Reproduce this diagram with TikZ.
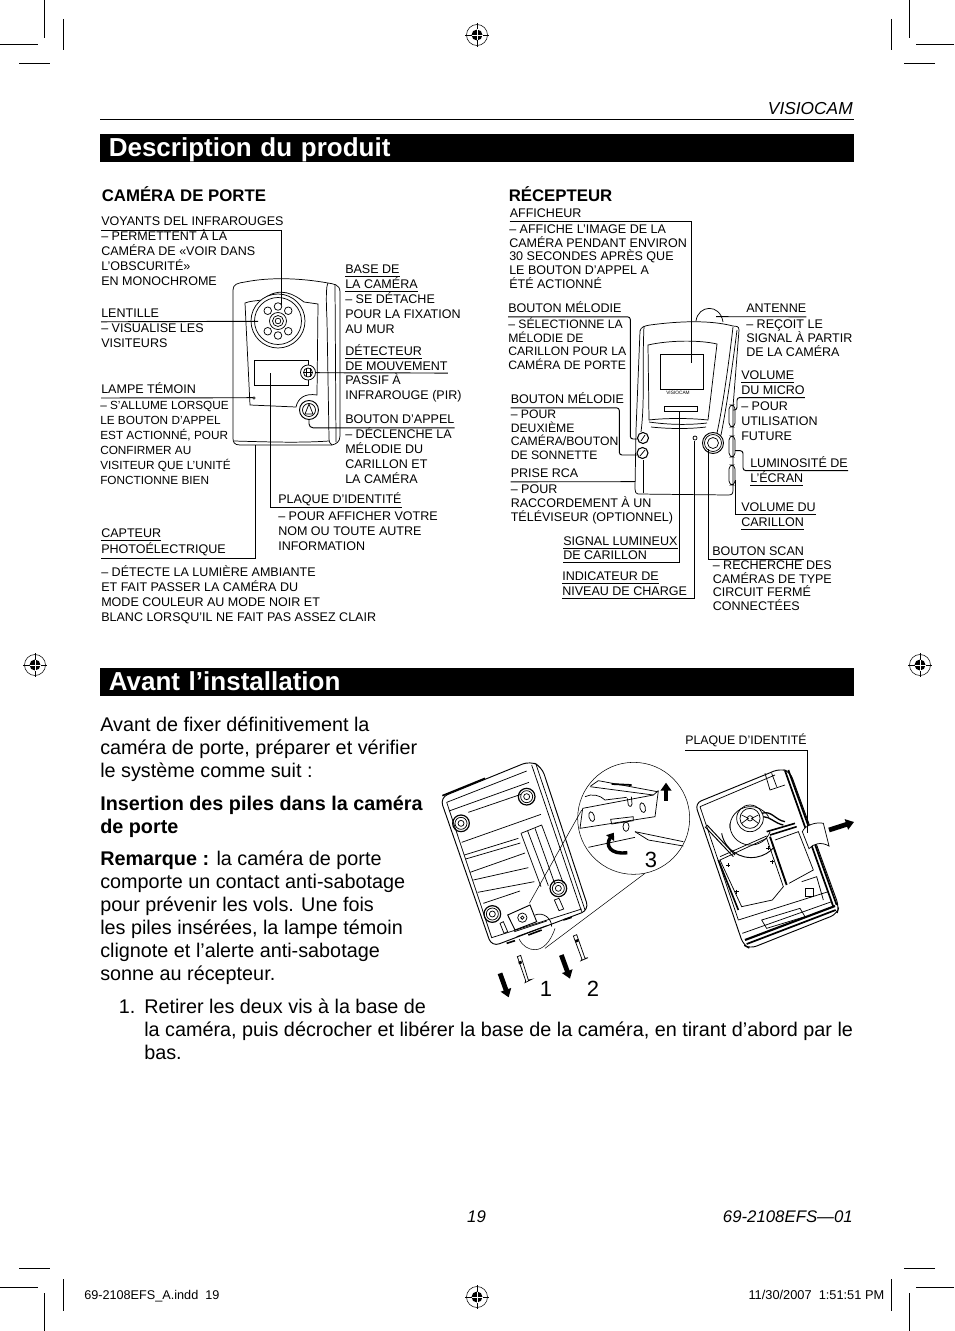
\documentclass[tikz,border=0pt]{standalone}
\usepackage{fontspec}
\setmainfont{Liberation Sans}
\usetikzlibrary{arrows.meta}
\newcommand{\camfont}{\fontsize{9.4pt}{11.25pt}\selectfont}
\newcommand{\recfont}{\fontsize{9.4pt}{10.25pt}\selectfont}
\newcommand{\bodyfont}{\fontsize{14.85pt}{17.25pt}\selectfont}
\tikzset{
  camtext/.style={anchor=base west,inner sep=0pt,align=left,font=\camfont},
  rectext/.style={anchor=base west,inner sep=0pt,align=left,font=\recfont},
  headlow/.style={anchor=base west,inner sep=0pt,font=\camfont,text depth=3.4pt},
  headtight/.style={anchor=base west,inner sep=0pt,font=\camfont,text depth=2.1pt},
  bodytext/.style={anchor=base west,inner sep=0pt,align=left,font=\bodyfont},
  titlebar/.style={anchor=north west,fill=black,text=white,inner ysep=0pt,inner xsep=6.4pt,
    text height=16.5pt,text depth=4.5pt,text width=552.7pt,font=\fontsize{19.5pt}{21pt}\selectfont\bfseries},
  subtitle/.style={anchor=base west,inner sep=0pt,font=\fontsize{12.6pt}{14pt}\selectfont\bfseries},
  leader/.style={line width=0.7pt},
  partline/.style={line width=0.55pt},
  blkarrow/.style={line width=3.6pt,-{Triangle[width=8pt,length=6pt]}},
  cropmark/.style={line width=0.7pt}
}
\begin{document}
\begin{tikzpicture}[x=0.75pt,y=-0.75pt]
\useasboundingbox (0,0) rectangle (954,1331);

% crop marks
\foreach \xa/\xb/\xc/\xd/\xe/\xf in {44.5/63/0/38/19/50,909.5/891/954/916/935/904}{
  \draw[cropmark] (\xa,0)--(\xa,38);
  \draw[cropmark] (\xb,19)--(\xb,50);
  \draw[cropmark] (\xc,44)--(\xd,44);
  \draw[cropmark] (\xe,63)--(\xf,63);
  \draw[cropmark] (\xa,1293)--(\xa,1331);
  \draw[cropmark] (\xb,1279)--(\xb,1311);
  \draw[cropmark] (\xc,1287)--(\xd,1287);
  \draw[cropmark] (\xe,1268)--(\xf,1268);
}
\foreach \regx/\regy in {477/35,477/1297,35/665,920/665}{
  \draw[line width=0.4pt] (\regx,\regy) circle (10.5);
  \fill (\regx,\regy) circle (5.5);
  \draw[line width=0.7pt] (\regx-12,\regy)--(\regx+12,\regy);
  \draw[line width=0.7pt] (\regx,\regy-12)--(\regx,\regy+12);
  \draw[white,line width=0.5pt] (\regx-5.5,\regy)--(\regx+5.5,\regy);
  \draw[white,line width=0.5pt] (\regx,\regy-5.5)--(\regx,\regy+5.5);
}

% header and titles
\node[anchor=base east,inner sep=0pt,font=\fontsize{13pt}{15pt}\selectfont\itshape] (brand) at (853,114) {VISIOCAM};
\draw[line width=0.7pt] (100,119.5)--(854,119.5);
\node[titlebar] (descbar) at (100,134) {Description du produit};
\node[titlebar] (avantbar) at (100,668) {Avant l’installation};
\node[subtitle] (camtitle) at (101.5,201.5) {CAMÉRA DE PORTE};
\node[subtitle] (rectitle) at (508.5,201.5) {RÉCEPTEUR};

% door camera
\draw[partline] (233,290) .. controls (233,284) and (238,283) .. (245,282)
  .. controls (270,277) and (300,278) .. (328,283) .. controls (333,284) and (340,284) .. (340,292)
  -- (340,436) .. controls (340,442) and (336,444) .. (332,445) -- (240,445) .. controls (234,445) and (233,442) .. (233,438) -- cycle;
\draw[partline] (328,283) .. controls (326,286) and (326,300) .. (327,320) -- (329,438) .. controls (329,442) and (330,444) .. (332,445);
\draw[partline] (335,284) -- (336,442);
\draw[partline] (234,441) .. controls (270,442) and (300,443) .. (329,441);
\draw[partline] (245,303) .. controls (250,301) and (255,301) .. (262,300) .. controls (280,285) and (295,295) .. (304,302)
  -- (318,304) -- (317,395) .. controls (305,393) and (298,398) .. (296,407) -- (250,405) -- cycle;
\fill[white,draw=black,line width=0.55pt] (278,321) circle (27);
\draw[partline] (278,321) circle (23.5);
\foreach \ledang in {45,90,135,225,270,315}{
  \draw[partline] (278,321)++(\ledang:14.5) circle (3.8);
}
\draw[partline] (278,321) circle (8.5);
\draw[partline] (278,321) circle (5.5);
\draw[partline] (278,321) circle (2.8);
\draw[partline] (254,360) rectangle (308,385);
\fill[white,draw=black,line width=0.55pt] (308,372.5) circle (7.5);
\draw[partline] (308,372.5) circle (4.5);
\draw[partline] (306,368)--(306,377);
\draw[partline] (310,368)--(310,377);
\draw[partline] (304,372.5)--(312,372.5);
\fill[white,draw=black,line width=0.7pt] (309,410) circle (9.5);
\draw[partline] (309,410) circle (6.5);
\draw[partline] (305,414)--(309,404)--(313,414)--cycle;
\draw[line width=0.4pt] (254,398) circle (1.2);
\coordinate (camleds) at (281.5,305);
\coordinate (camlens) at (258,321.3);
\coordinate (camlamp) at (253,397.7);
\coordinate (camsensor) at (255,445);
\coordinate (campir) at (315,372.7);
\coordinate (camplate) at (270,373);
\coordinate (cambell) at (309,419);

\node[headlow] (voyants) at (101,225.2) {VOYANTS DEL INFRAROUGES};
\node[camtext] (voyantsdesc) at (101,285) {– PERMETTENT À LA\\CAMÉRA DE «VOIR DANS\\L’OBSCURITÉ»\\EN MONOCHROME};
\node[headlow] (lentille) at (101,317) {LENTILLE};
\node[camtext] (lentilledesc) at (101,347) {– VISUALISE LES\\VISITEURS};
\node[headlow] (lampe) at (101,393.2) {LAMPE TÉMOIN};
\node[camtext,font=\fontsize{8.85pt}{11.25pt}\selectfont] (lampedesc) at (100,484.5) {– S’ALLUME LORSQUE\\LE BOUTON D’APPEL\\EST ACTIONNÉ, POUR\\CONFIRMER AU\\VISITEUR QUE L’UNITÉ\\FONCTIONNE BIEN};
\node[headtight] (capteur) at (101,537) {CAPTEUR\ };
\node[headlow] (photo) at (101,553.5) {PHOTOÉLECTRIQUE};
\node[camtext] (capteurdesc) at (101,621) {– DÉTECTE LA LUMIÈRE AMBIANTE\\ET FAIT PASSER LA CAMÉRA DU\\MODE COULEUR AU MODE NOIR ET\\BLANC LORSQU’IL NE FAIT PAS ASSEZ CLAIR};
\node[headtight] (basede) at (345,273) {BASE DE};
\node[headtight] (basecam) at (345,288) {LA CAMÉRA};
\node[camtext] (basedesc) at (345,333) {– SE DÉTACHE\\POUR LA FIXATION\\AU MUR};
\node[headtight] (detecteur) at (345,355) {DÉTECTEUR\ };
\node[headtight] (mouvement) at (345,370) {DE MOUVEMENT};
\node[camtext] (detecteurdesc) at (345,399) {PASSIF À\\INFRAROUGE (PIR)};
\node[headlow] (appel) at (345,423) {BOUTON D’APPEL};
\node[camtext] (appeldesc) at (345,483) {– DÉCLENCHE LA\\MÉLODIE DU\\CARILLON ET\\LA CAMÉRA};
\node[headlow] (plaque) at (278,503) {PLAQUE D’IDENTITÉ};
\node[camtext] (plaquedesc) at (278,550) {– POUR AFFICHER VOTRE\\NOM OU TOUTE AUTRE\\INFORMATION};

\draw[leader] (voyants.south west) -| (camleds);
\draw[leader] (lentille.south west) -- (camlens);
\draw[leader] (lampe.south west) -- (camlamp);
\draw[leader] (capteur.south west) -- (capteur.south east);
\draw[leader] (photo.south west) -| (camsensor);
\draw[leader] (basede.south west) -- (basede.south east);
\draw[leader] (basecam.south west) -- (basecam.south east);
\draw[leader] (detecteur.south west) -- (detecteur.south east);
\draw[leader] (campir) -- (mouvement.south east);
\draw[leader,rounded corners=3pt] (appel.south east) -| (cambell);
\draw[leader] (plaque.south east) -| (camplate);

% receiver
\draw[partline] (696,321) .. controls (698,305) and (720,303) .. (723,322);
\draw[partline] (640,331) .. controls (641,327) and (644,326) .. (650,325) .. controls (680,321) and (710,320) .. (733,326)
  .. controls (736,326) and (739,326) .. (739,330) -- (733,407) -- (733,490) .. controls (733,494) and (732,495) .. (728,495)
  -- (638,494) .. controls (636,494) and (635,492) .. (635,489) -- (636,430) -- cycle;
\draw[partline] (644,326) .. controls (642,370) and (645,400) .. (641,432);
\draw[partline] (733,327) .. controls (728,370) and (722,410) .. (717,433);
\draw[partline] (737,330) .. controls (732,370) and (726,410) .. (721,435);
\draw[partline] (643,460)--(643,493);
\draw[partline] (648,345) .. controls (670,340) and (700,340) .. (717,344) -- (708,420) .. controls (690,418) and (665,418) .. (649,420) -- cycle;
\draw[partline] (660,354) rectangle (703,389);
\node[inner sep=0pt,font=\fontsize{3.6pt}{4pt}\selectfont] (recbrand) at (678,393) {VISIOCAM};
\draw[partline] (664,406) rectangle (697,411);
\draw[partline] (649,422) .. controls (670,425) and (690,425) .. (707,423);
\draw[partline] (651,427) .. controls (670,429) and (690,429) .. (706,427);
\draw[line width=0.8pt,fill=white] (643,438) circle (5.5);
\draw[line width=0.8pt,fill=white] (642.5,453) circle (5.5);
\draw[partline] (641,441)--(645,435);
\draw[partline] (640,456)--(645,450);
\draw[partline] (695,438) circle (2);
\fill[white,draw=black,line width=0.7pt] (713,443) circle (10.5);
\draw[partline] (713,443) circle (8.5);
\draw[partline] (713,443) circle (5.5);
\draw[partline,rounded corners=3pt] (729,405) rectangle (735,427);
\draw[partline,rounded corners=3pt] (729,436) rectangle (735,457);
\draw[partline,rounded corners=3pt] (729,465) rectangle (735,485);
\coordinate (recscreen) at (691.7,362.7);
\coordinate (recbtnabend) at (630.3,439);
\coordinate (recbtna) at (637.5,439);
\coordinate (recbtnbbend) at (619.3,455);
\coordinate (recbtnb) at (637,455);
\coordinate (recjack) at (635,481.7);
\coordinate (recbar) at (679.3,411);
\coordinate (recled) at (694.3,441);
\coordinate (recscan) at (708,449);
\coordinate (recant) at (716,316.7);
\coordinate (recmicbend) at (737,410);
\coordinate (recmic) at (733,410);
\coordinate (reclumbend) at (743,450.7);
\coordinate (reclum) at (735,450.7);
\coordinate (recvol) at (735.7,480);

\node[headlow] (afficheur) at (509.5,217) {AFFICHEUR};
\node[rectext] (afficheurdesc) at (509,288.2) {– AFFICHE L’IMAGE DE LA\\CAMÉRA PENDANT ENVIRON\\30 SECONDES APRÈS QUE\\LE BOUTON D’APPEL A\\ÉTÉ ACTIONNÉ};
\node[headlow] (melodiea) at (508,312) {BOUTON MÉLODIE};
\node[rectext,font=\fontsize{9.15pt}{10.25pt}\selectfont] (melodieadesc) at (508,369.5) {– SÉLECTIONNE LA\\MÉLODIE DE\\CARILLON POUR LA\\CAMÉRA DE PORTE};
\node[headlow] (melodieb) at (510.5,403) {BOUTON MÉLODIE};
\node[rectext,font=\fontsize{9.15pt}{10.25pt}\selectfont] (melodiebdesc) at (510.5,459.5) {– POUR\\DEUXIÈME\\CAMÉRA/BOUTON\\DE SONNETTE};
\node[headlow] (prise) at (510.5,477) {PRISE RCA};
\node[rectext] (prisedesc) at (510.5,521) {– POUR\\RACCORDEMENT À UN\\TÉLÉVISEUR (OPTIONNEL)};
\node[headtight] (signal) at (563,545) {SIGNAL LUMINEUX};
\node[headtight] (decarillon) at (563,559) {DE CARILLON};
\node[headtight] (indicateur) at (562,580.5) {INDICATEUR DE};
\node[headtight] (niveau) at (562,595.5) {NIVEAU DE CHARGE};
\node[headlow] (scan) at (712,555) {BOUTON SCAN};
\node[rectext] (scandesc) at (712.5,610.5) {– RECHERCHE DES\\CAMÉRAS DE TYPE\\CIRCUIT FERMÉ\\CONNECTÉES};
\node[headlow] (antenne) at (746,312) {ANTENNE};
\node[rectext] (antennedesc) at (746,356) {– REÇOIT LE\\SIGNAL À PARTIR\\DE LA CAMÉRA};
\node[headtight] (volmic) at (741,379) {VOLUME};
\node[headtight] (dumicro) at (741,394.5) {DU MICRO};
\node[camtext] (micdesc) at (741,440.7) {– POUR\\UTILISATION\\FUTURE};
\node[headtight] (lumin) at (750,467.5) {LUMINOSITÉ DE};
\node[headtight] (ecran) at (750,482.5) {L’ÉCRAN};
\node[headtight] (voldu) at (741,511) {VOLUME DU};
\node[headtight] (carillon) at (741,526.5) {CARILLON};

\draw[leader] (afficheur.south west) -| (recscreen);
\draw[leader,rounded corners=2pt] (melodiea.south west) -| (recbtnabend) -- (recbtna);
\draw[leader,rounded corners=2pt] (melodieb.south west) -| (recbtnbbend) -- (recbtnb);
\draw[leader] (prise.south west) -- (recjack);
\draw[leader] (signal.south west) -- (signal.south east);
\draw[leader] (decarillon.south west) -| (recbar);
\draw[leader] (indicateur.south west) -- (indicateur.south east);
\draw[leader] (niveau.south west) -| (recled);
\draw[leader] (scan.south east) -| (recscan);
\draw[leader] (antenne.south east) -- (recant);
\draw[leader] (volmic.south west) -- (volmic.south east);
\draw[leader,rounded corners=2pt] (dumicro.south east) -| (recmicbend) -- (recmic);
\draw[leader,rounded corners=2pt] (lumin.south east) -| (reclumbend) -- (reclum);
\draw[leader] (ecran.south west) -- (ecran.south east);
\draw[leader] (voldu.south east) -| (recvol);
\draw[leader] (carillon.south west) -- (carillon.south east);

% installation text
\node[bodytext] (intro) at (100,777) {Avant de fixer définitivement la\\caméra de porte, préparer et vérifier\\le système comme suit :};
\node[bodytext] (insertion) at (100,833) {\bfseries Insertion des piles dans la caméra\\\bfseries de porte};
\node[bodytext] (remarque) at (100,980) {\textbf{Remarque :} la caméra de porte\\comporte un contact anti-sabotage\\pour prévenir les vols. Une fois\\les piles insérées, la lampe témoin\\clignote et l’alerte anti-sabotage\\sonne au récepteur.};
\node[bodytext] (stepnum) at (118.5,1013) {1.};
\node[bodytext] (stepone) at (144,1059) {Retirer les deux vis à la base de\\la caméra, puis décrocher et libérer la base de la caméra, en tirant d’abord par le\\bas.};

% back of the camera
\begin{scope}[shift={(435,755)},x=0.25pt,y=-0.25pt]
\draw[line width=0.7pt,rounded corners=6pt] (15,128)--(285,18)--(320,35)--(462,465)--(170,575)--cycle;
\draw[line width=1.2pt] (22,122)--(150,70);
\draw[partline] (35,142)--(275,48);
\draw[partline] (35,142)--(170,548)--(440,462);
\draw[partline] (290,30)--(440,470);
\draw[partline] (303,28)--(450,465);
\draw[partline] (42,168)--(282,82);
\draw[partline] (100,172)--(258,118);
\draw[partline] (80,262)--(318,178);
\draw[partline] (88,300)--(250,250);
\draw[partline] (92,312)--(256,264);
\draw[partline] (105,352)--(270,294);
\draw[partline] (115,375)--(280,338);
\draw[partline] (128,412)--(298,380);
\draw[partline] (145,445)--(255,408);
\draw[partline] (258,235)--(320,210)--(385,385);
\draw[partline] (258,235)--(318,395);
\draw[partline] (278,228)--(340,392);
\draw[partline] (300,220)--(360,388);
\foreach \bossx/\bossy in {78/205,275/125,370/400,172/477}{
  \draw[line width=0.9pt] (\bossx,\bossy) circle (25);
  \draw[partline] (\bossx,\bossy) circle (18);
  \draw[partline] (\bossx,\bossy) circle (9);
}
\draw[partline] (195,505)--(205,500)--(218,530)--(207,535)--cycle;
\draw[partline] (358,435)--(372,430)--(386,462)--(372,467)--cycle;
\draw[line width=0.7pt] (218,480)--(285,450)--(305,500)--(240,525)--cycle;
\draw[partline] (262,488) circle (14);
\draw[partline] (262,488) circle (5);
\draw[partline] (300,480) .. controls (325,470) and (350,490) .. (350,515);
\draw[partline] (238,530)--(335,498);
\draw[partline] (245,545)--(335,512);
\draw[line width=1.2pt] (215,565)--(240,557);
\draw[line width=1.2pt] (280,540)--(320,525);
\draw[line width=1.2pt] (385,495)--(410,487);
\draw[line width=0.4pt] (252,552) .. controls (270,590) and (330,610) .. (360,520);
\end{scope}

% detail circle
\begin{scope}[shift={(430,730)},x=0.25pt,y=-0.25pt]
\draw[line width=0.4pt] (611,265) circle (168);
\draw[line width=0.4pt] (298,520)--(455,240);
\draw[line width=0.4pt] (345,655)--(645,430);
\end{scope}
\begin{scope}[shift={(570,760)},x=0.25pt,y=-0.25pt]
\draw[partline] (38,145)--(250,105)--(265,92);
\draw[partline] (38,145)--(30,205)--(255,170)--(265,92);
\draw[partline] (62,78)--(85,62)--(262,95);
\draw[partline] (60,80)--(250,105);
\draw[line width=1.3pt] (125,72)--(185,75);
\draw[partline] (45,110) .. controls (65,100) and (90,105) .. (105,120)--(170,112);
\draw[partline] (172,115)--(175,135) .. controls (180,142) and (186,140) .. (186,132)--(184,110);
\draw[partline,rotate around={15:(65,170)}] (65,170) ellipse (8 and 15);
\draw[partline,rotate around={15:(218,143)}] (218,143) ellipse (8 and 15);
\draw[partline] (122,178)--(190,170)--(190,182)--(125,192)--cycle;
\draw[partline] (168,200) ellipse (9 and 14);
\draw[partline] (55,262)--(195,232);
\draw[partline] (195,215)--(340,245);
\draw[partline] (195,215)--(235,240)--(340,258);
\end{scope}
\begin{scope}[shift={(430,730)},x=0.25pt,y=-0.25pt]
\draw[line width=2.6pt,-{Triangle[width=7pt,length=5pt]}] (592,368) .. controls (540,375) and (525,345) .. (552,308);
\draw[blkarrow] (708,212)--(708,158);
\draw[blkarrow] (210,730)--(236,802);
\draw[blkarrow] (394,675)--(420,746);
\draw[blkarrow] (1197,300)--(1272,276);
% screws
\draw[partline] (262,680)--(272,676)--(295,750)--(305,748)--(285,758)--(287,752)--cycle;
\fill (265,695)--(274,692)--(276,700)--(267,703)--cycle;
\draw[partline] (430,618)--(440,614)--(465,685)--(474,683)--(453,692)--(456,688)--cycle;
\fill (435,630)--(444,627)--(446,635)--(437,638)--cycle;
\end{scope}
\node[inner sep=0pt,font=\fontsize{16.5pt}{18pt}\selectfont] (numone) at (546,989) {1};
\node[inner sep=0pt,font=\fontsize{16.5pt}{18pt}\selectfont] (numtwo) at (593,989) {2};
\node[inner sep=0pt,font=\fontsize{16.5pt}{18pt}\selectfont] (numthree) at (651,860) {3};

% opened camera
\begin{scope}[shift={(685,760)},x=0.25pt,y=-0.25pt]
\draw[line width=0.7pt,rounded corners=5pt] (30,130)--(285,26)--(315,35)--(462,440)--(456,462)--(195,566)--(175,555)--cycle;
\draw[partline] (45,140)--(270,45);
\draw[partline] (45,140)--(160,480);
\draw[line width=1.3pt] (300,32)--(445,440);
\draw[line width=1.3pt] (310,30)--(455,435);
\draw[line width=1.6pt] (180,540)--(450,438);
\draw[line width=1.3pt] (185,552)--(452,450);
\draw[partline] (172,520)--(440,425);
\draw[partline] (160,480)--(430,395);
\draw[line width=0.7pt] (110,220) arc (170:40:90 and 88);
\draw[partline] (135,205) arc (175:330:62 and 60);
\draw[partline] (135,190) arc (185:20:62 and 60);
\draw[partline] (195,175) circle (40);
\draw[partline] (195,175) circle (30);
\draw[partline] (170,165)--(190,175)--(170,190);
\draw[partline] (220,165)--(200,175)--(220,190);
\draw[partline] (195,175) circle (8);
\draw[line width=1pt] (230,160) .. controls (260,150) and (270,180) .. (300,185);
\draw[line width=1pt] (235,170) .. controls (255,170) and (270,190) .. (295,195);
\draw[line width=1.2pt] (245,215)--(330,190);
\draw[line width=1.2pt] (255,225)--(335,200);
\draw[partline] (105,300)--(245,235)--(295,380)--(262,420)--(170,440)--cycle;
\draw[line width=1.4pt] (255,230)--(305,375);
\draw[partline] (270,240)--(340,215)--(385,330)--(312,370);
\draw[line width=0.7pt] (60,200)--(145,290);
\draw[line width=0.7pt] (66,195)--(150,285);
\draw[partline] (105,290)--(245,228);
\draw[line width=1.2pt] (100,300)--(160,450);
\draw[partline] (230,480)--(345,445)--(360,470)--(245,505)--cycle;
\draw[partline] (350,365)--(395,350)--(415,420);
\draw[partline] (360,385) rectangle (385,410);
\draw[partline] (240,40)--(255,90)--(300,75);
\draw[partline] (260,40)--(275,80);
\foreach \starx/\stary in {130/315,250/265,155/395,262/305}{
  \draw[partline] (\starx-6,\stary)--(\starx+6,\stary);
  \draw[partline] (\starx,\stary-6)--(\starx,\stary+6);
}
\draw[partline,fill=white] (352,215) .. controls (360,195) and (395,185) .. (415,190) -- (432,258)
  .. controls (410,245) and (385,250) .. (372,266) -- cycle;
\end{scope}
\coordinate (platetab) at (807,833);
\node[inner sep=0pt,anchor=base west,font=\fontsize{9.25pt}{11pt}\selectfont,text depth=3.9pt] (plaquetab) at (685,744.8) {PLAQUE D’IDENTITÉ};
\draw[leader] (plaquetab.south west) -| (platetab);

% footer
\node[anchor=base,inner sep=0pt,font=\fontsize{12.6pt}{14pt}\selectfont\itshape] (pagenum) at (476.5,1222) {19};
\node[anchor=base east,inner sep=0pt,font=\fontsize{12.6pt}{14pt}\selectfont\itshape] (docnum) at (853,1222) {69-2108EFS—01};
\node[anchor=base west,inner sep=0pt,font=\fontsize{9.5pt}{11pt}\selectfont] (slugfile) at (84,1299) {69-2108EFS\_A.indd\ \ 19};
\node[anchor=base east,inner sep=0pt,font=\fontsize{9.6pt}{11pt}\selectfont] (slugdate) at (884.5,1299) {11/30/2007\ \ 1:51:51 PM};
\end{tikzpicture}
\end{document}
